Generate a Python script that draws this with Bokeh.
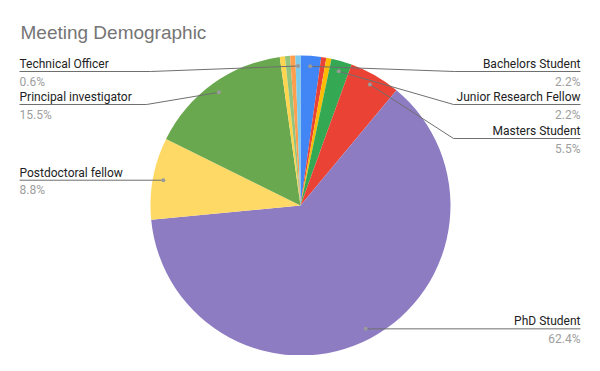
import math
from bokeh.plotting import figure
from bokeh.models import Range1d, ColumnDataSource
from bokeh.core.properties import value
from bokeh.embed import file_html
from bokeh.resources import INLINE

# ---- data (clockwise from 12 o'clock) ----
categories = ["Bachelors Student", "Unlabelled A", "Unlabelled B", "Junior Research Fellow",
              "Masters Student", "PhD Student", "Postdoctoral fellow", "Principal investigator",
              "Unlabelled C", "Unlabelled D", "Unlabelled E", "Technical Officer"]
counts = [4, 1, 1, 4, 10, 113, 16, 28, 1, 1, 1, 1]
colors = ["#4285F4", "#EA4335", "#FBBC04", "#34A853", "#EA4335", "#8E7CC3",
          "#FFD966", "#6AA84F", "#FFD54F", "#93C47D", "#FF9E4D", "#7CCBEA"]
title_text = "Meeting Demographic"

# ---- layout (screen pixels) ----
# name -> (side, underline y, elbow x); None = horizontal from the dot
label_layout = {
    "Technical Officer": ("left", 71, 150),
    "Principal investigator": ("left", 104, 146),
    "Postdoctoral fellow": ("left", None, None),
    "Bachelors Student": ("right", 71, 454),
    "Junior Research Fellow": ("right", 104, 453),
    "Masters Student": ("right", 138, 453),
    "PhD Student": ("right", None, None),
}
LEFT_X, RIGHT_X = 19, 580
CX_S, CY_S, R = 300, 205, 150

def Y(ys):
    return 371 - ys

p = figure(width=584, height=355, x_range=Range1d(0, 584), y_range=Range1d(16, 371),
           output_backend="svg", toolbar_location=None, min_border=0)
p.axis.visible = False
p.grid.visible = False
p.outline_line_color = None
p.background_fill_color = "white"
p.border_fill_color = "white"

total = sum(counts)
starts, ends, mids = [], [], []
cum = 0
for c in counts:
    a0 = math.pi / 2 - 2 * math.pi * cum / total
    cum += c
    a1 = math.pi / 2 - 2 * math.pi * cum / total
    starts.append(a0)
    ends.append(a1)
    mids.append((a0 + a1) / 2)

src = ColumnDataSource(dict(start=starts, end=ends, color=colors, cat=categories))
p.wedge(x=CX_S, y=Y(CY_S), radius=R, start_angle="start", end_angle="end",
        direction="clock", fill_color="color", line_color=None, source=src)

label_font = value("Roboto")

lx, ly, lt, la = [], [], [], []
px, py, pt = [], [], []
dotx, doty = [], []
for i, name in enumerate(categories):
    if name not in label_layout:
        continue
    side, line_y, elbow = label_layout[name]
    r = 0.93 * R
    dx = CX_S + r * math.cos(mids[i])
    dy = Y(CY_S) + r * math.sin(mids[i])
    dotx.append(dx)
    doty.append(dy)
    if line_y is None:
        ly_d = dy
        xs = [dx, LEFT_X if side == "left" else RIGHT_X]
        ys = [dy, dy]
    else:
        ly_d = Y(line_y)
        end = LEFT_X if side == "left" else RIGHT_X
        xs = [dx, elbow, end]
        ys = [dy, ly_d, ly_d]
    p.line(xs, ys, line_color="#6f6f6f", line_width=1)
    tx = LEFT_X if side == "left" else RIGHT_X
    lx.append(tx); ly.append(ly_d + 7.5); lt.append(name); la.append(side)
    pct = 100 * counts[i] / total
    px.append(tx); py.append(ly_d - 10); pt.append(f"{pct:.1f}%")

p.scatter(dotx, doty, size=4, fill_color="#9a9a9a", line_color=None)

for side in ("left", "right"):
    idx = [k for k in range(len(lt)) if la[k] == side]
    p.text(x=[lx[k] for k in idx], y=[ly[k] for k in idx], text=[lt[k] for k in idx],
           text_font=label_font, text_font_size="12px", text_color="#222222",
           text_align=side, text_baseline="alphabetic")
    p.text(x=[px[k] for k in idx], y=[py[k] for k in idx], text=[pt[k] for k in idx],
           text_font=label_font, text_font_size="12px", text_color="#9e9e9e",
           text_align=side, text_baseline="alphabetic")

p.text(x=[20], y=[Y(32)], text=[title_text], text_font=value("Liberation Sans"),
       text_font_size="19px", text_color="#757575", text_align="left",
       text_baseline="alphabetic")

open("out.html", "w").write(file_html(p, INLINE))
